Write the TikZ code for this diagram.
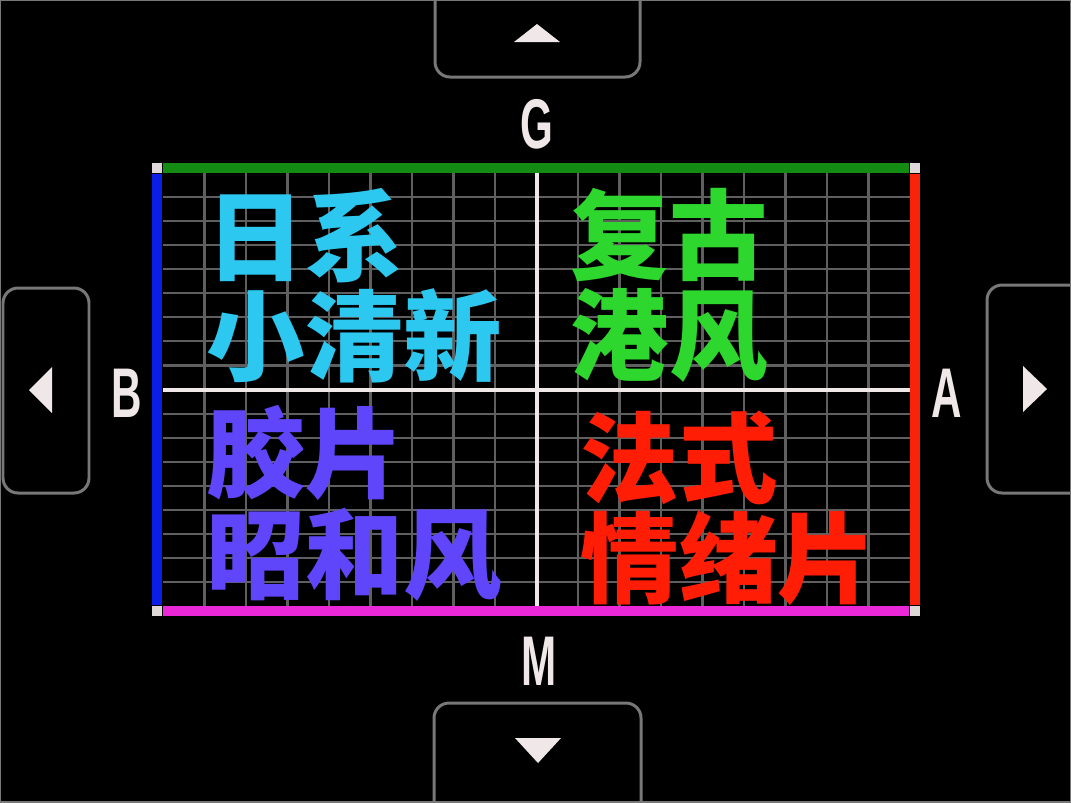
\documentclass[tikz,border=0pt]{standalone}
\usepackage{fontspec}
\newfontfamily\cjk{Noto Sans CJK SC}
\newfontfamily\labelfont{Liberation Sans}[FakeStretch=0.6]
\usetikzlibrary{positioning}

\definecolor{gframe}{RGB}{20,140,20}
\definecolor{bframe}{RGB}{10,30,230}
\definecolor{rframe}{RGB}{250,35,10}
\definecolor{mframe}{RGB}{235,40,215}
\definecolor{cyantext}{RGB}{45,200,240}
\definecolor{greentext}{RGB}{45,215,45}
\definecolor{purpletext}{RGB}{95,70,250}
\definecolor{redtext}{RGB}{255,30,5}
\definecolor{gridgray}{RGB}{95,95,95}
\definecolor{btngray}{RGB}{120,120,120}
\definecolor{offwhite}{RGB}{240,232,232}

\begin{document}
\begin{tikzpicture}[x=0.01cm, y=-0.01cm,
  gridline/.style={draw=gridgray, line width=0.6pt},
  crossline/.style={draw=offwhite, line width=1pt},
  edge/.style={line width=2.85pt},
  cornerbox/.style={fill=offwhite!85!gray, minimum size=0.1cm, inner sep=0pt},
  btn/.style={draw=btngray, line width=0.85pt, rounded corners=0.15cm},
  tri/.style={fill=offwhite},
  axislabel/.style={text=offwhite, font=\labelfont\bfseries\fontsize{20}{24}\selectfont, anchor=base, inner sep=0pt},
  quad/.style={font=\cjk\bfseries\fontsize{28}{28.45}\selectfont, align=left, anchor=north west, inner sep=0pt}]
  \useasboundingbox (0,0) rectangle (1071,802);
  \fill[black] (0,0) rectangle (1071,802);
  \clip (0,0) rectangle (1071,802);

  % grid
  \foreach \i in {1,...,17}
    \draw[gridline] ({163+41.5*\i},173) -- ({163+41.5*\i},606);
  \foreach \j in {1,...,17}
    \draw[gridline] (163,{173+24.06*\j}) -- (910,{173+24.06*\j});
  \draw[crossline] (537,173) -- (537,606);
  \draw[crossline] (163,390) -- (910,390);

  % frame
  \node[cornerbox] (tl) at (157,168) {};
  \node[cornerbox] (tr) at (915,168) {};
  \node[cornerbox] (bl) at (157,611) {};
  \node[cornerbox] (br) at (915,611) {};
  \draw[edge, gframe] (tl) -- (tr);
  \draw[edge, bframe] (tl) -- (bl);
  \draw[edge, rframe] (tr) -- (br);
  \draw[edge, mframe] (bl) -- (br);

  % buttons
  \draw[btn] (435,-20) rectangle (640,77);
  \draw[btn] (3,288) rectangle (89,493);
  \draw[btn] (987,285) rectangle (1100,493);
  \draw[btn] (434,703) rectangle (641,830);
  \fill[tri] (514,42) -- (537,24) -- (560,42) -- cycle;
  \fill[tri] (52,367) -- (29,390) -- (52,413) -- cycle;
  \fill[tri] (1023,366) -- (1047,389) -- (1023,412) -- cycle;
  \fill[tri] (515,738) -- (538,763) -- (561,738) -- cycle;

  \node[axislabel] (labG) at (537,148) {G};
  \node[axislabel] (labB) at (127,417) {B};
  \node[axislabel] (labA) at (947,417) {A};
  \node[axislabel] (labM) at (539,685) {M};

  \node[quad, text=cyantext] (rixi) at (206,188) {日系\\小清新};
  \node[quad, text=greentext] (fugu) at (570,188) {复古\\港风};
  \node[quad, text=purpletext] (jiaopian) at (206,405) {胶片\\昭和风};
  \node[quad, text=redtext] (fashi) at (580,410) {法式\\情绪片};

  \draw[btngray, line width=0.6pt] (0,0) rectangle (1071,802);
\end{tikzpicture}
\end{document}
